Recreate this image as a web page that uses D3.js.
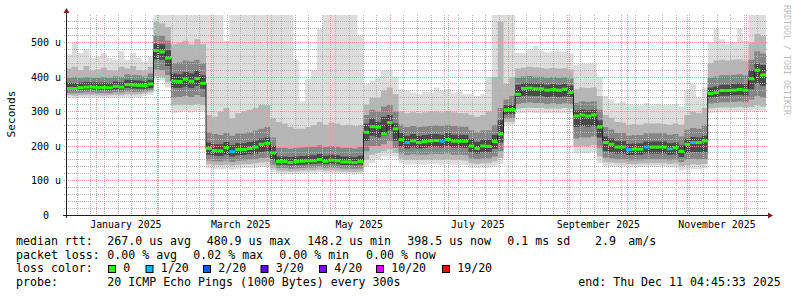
<!DOCTYPE html>
<html>
<head>
<meta charset="utf-8">
<script src="https://d3js.org/d3.v7.min.js"></script>
<style>
  body { margin: 0; background: #ffffff; }
  svg { display: block; }
  text { font-family: "DejaVu Sans Mono", monospace; fill: #000000; }
</style>
</head>
<body>
<div id="graph"></div>
<script>

// one sample every 3 days, the graph covers the 360 days before END_TIME
const END_TIME = new Date(Date.UTC(2025, 11, 11, 4, 45, 33));
const SPAN_DAYS = 360;
const STEP_DAYS = 3;
const Y_MAX = 580;   // micro seconds, top of the canvas

// median rtt per sample (us)
const median_us = [
  367,367,369,371,371,370,370,369,373,371,
  378,377,376,375,380,477,473,455,388,387,
  394,388,396,382,193,187,186,195,184,190,
  190,193,197,205,208,180,155,155,152,155,
  156,157,157,161,156,159,157,154,154,152,
  155,240,256,255,235,268,250,218,210,215,
  210,213,215,216,214,219,214,214,214,200,
  193,200,199,213,235,305,306,350,367,368,
  366,366,362,364,362,365,355,287,290,287,
  290,255,210,205,197,197,190,191,191,197,
  197,197,197,192,195,185,205,210,210,215,
  352,355,361,361,362,364,362,395,420,406
];

// sorted pings (rank out of 20), us; 600 = above the graph top
const ping01 = [
  340,338,340,339,341,340,339,340,341,340,
  342,341,342,345,348,392,390,370,296,298,
  300,297,300,298,135,133,132,134,131,134,
  136,136,137,140,140,125,120,119,118,119,
  120,120,121,123,120,121,120,118,118,117,
  118,140,150,160,170,170,170,150,146,147,
  146,146,147,147,146,148,146,146,145,137,
  136,137,137,140,148,262,262,294,296,297,
  296,296,295,296,295,296,294,178,180,180,
  183,150,142,141,140,140,138,138,139,140,
  140,140,140,138,138,130,132,133,132,135,
  296,297,298,298,298,299,298,300,302,300
];
const ping03 = [
  347,346,347,347,348,347,346,347,348,347,
  350,349,350,352,356,402,400,385,318,318,
  320,318,322,318,147,145,144,146,143,146,
  147,148,150,152,153,135,128,127,126,127,
  128,129,129,131,128,129,128,126,126,125,
  126,160,175,180,185,190,180,163,160,161,
  160,160,161,161,160,162,160,160,158,150,
  148,150,150,155,165,270,270,308,310,311,
  310,310,308,309,308,310,308,198,200,200,
  203,170,153,152,150,150,148,148,149,150,
  150,150,150,148,149,142,145,147,146,148,
  309,310,312,312,312,313,312,313,318,315
];
const ping05 = [
  353,353,354,355,355,354,354,353,356,355,
  358,357,357,358,362,422,420,405,340,342,
  345,342,348,342,158,156,155,158,154,157,
  158,160,162,165,166,146,136,136,134,135,
  136,137,138,140,137,138,137,135,135,134,
  135,185,200,200,205,215,195,178,174,176,
  175,175,176,177,176,178,175,175,174,164,
  162,164,164,170,185,280,281,322,325,326,
  325,325,322,324,322,324,322,222,225,225,
  228,195,166,164,162,162,158,159,159,162,
  162,162,162,159,160,154,160,163,162,162,
  323,325,327,327,328,329,327,335,345,340
];
const ping08 = [
  362,362,363,364,364,363,363,362,365,364,
  368,367,366,366,368,452,450,432,368,368,
  372,368,375,366,175,172,171,175,170,173,
  174,176,178,183,185,160,146,146,144,145,
  146,147,148,150,147,149,147,145,145,144,
  146,215,230,225,230,245,215,198,193,196,
  193,195,197,198,196,200,196,196,195,182,
  178,182,182,192,210,292,293,342,345,346,
  345,345,342,344,342,344,342,255,258,256,
  258,225,185,182,178,178,174,175,175,178,
  178,178,178,175,176,168,180,183,182,182,
  340,343,346,346,347,348,346,365,380,375
];
const ping13 = [
  383,383,384,386,385,384,384,383,387,385,
  392,391,390,388,392,497,495,478,410,408,
  415,410,418,405,210,205,205,212,203,208,
  208,212,215,222,225,200,170,170,168,170,
  171,172,173,177,172,175,173,170,170,168,
  172,265,280,270,285,290,265,238,230,235,
  230,232,234,235,233,238,233,233,232,220,
  212,218,218,233,275,318,320,378,382,383,
  381,381,378,380,378,380,376,303,306,304,
  305,275,228,222,214,214,206,207,207,213,
  213,213,213,208,210,202,222,226,225,230,
  370,373,378,378,380,382,379,420,440,435
];
const ping16 = [
  398,400,398,400,398,398,400,398,402,400,
  408,406,405,402,410,522,520,505,440,442,
  448,445,450,440,240,235,232,238,230,236,
  236,240,245,250,255,225,195,195,192,195,
  196,198,198,202,197,200,198,195,195,193,
  197,290,305,300,315,320,300,262,255,258,
  255,257,258,260,258,262,258,257,256,246,
  240,245,246,262,310,335,345,398,402,403,
  401,401,398,400,398,400,396,325,330,328,
  330,305,255,248,238,238,230,232,232,237,
  237,237,237,233,235,228,248,252,250,262,
  398,402,405,405,406,408,405,450,475,468
];
const ping18 = [
  425,430,420,432,418,422,428,420,418,430,
  425,432,420,418,430,560,555,545,495,500,
  505,495,510,495,290,285,300,310,280,295,
  300,305,310,320,318,280,270,265,255,250,
  250,255,260,270,262,268,265,260,262,258,
  260,320,340,340,360,370,350,300,295,298,
  295,298,300,300,298,302,298,296,295,290,
  285,290,300,400,560,380,400,425,428,430,
  428,426,424,426,425,426,422,365,370,368,
  370,345,290,282,270,268,262,264,262,266,
  265,266,264,262,265,262,290,300,295,310,
  440,448,450,448,450,452,448,500,525,520
];
const ping20 = [
  465,500,470,480,455,460,470,455,450,475,
  450,470,455,445,460,600,600,600,600,600,
  600,600,600,600,600,600,600,505,600,600,
  600,600,600,600,600,600,600,600,600,450,
  330,394,420,540,600,600,600,600,600,600,
  520,380,390,400,420,420,400,365,360,355,
  350,358,355,370,360,365,355,358,350,350,
  345,350,400,600,600,600,600,470,470,480,
  490,478,472,474,476,475,468,435,440,438,
  440,400,345,335,325,330,322,320,318,325,
  318,322,318,320,322,315,360,380,340,370,
  500,540,510,495,500,540,505,600,600,600
];

// lost pings out of 20 per sample
const loss_count = [
  0,0,0,0,0,0,0,0,0,0,
  0,0,0,0,0,0,0,0,0,0,
  0,0,0,0,0,0,0,0,1,0,
  0,0,0,0,0,0,0,0,0,0,
  0,0,0,0,0,0,0,0,0,0,
  0,0,0,0,0,0,0,0,1,0,
  0,0,0,0,1,0,0,0,0,0,
  0,0,0,0,0,0,0,0,0,0,
  0,0,0,0,0,0,0,0,0,0,
  0,0,0,0,0,0,1,0,0,1,
  0,0,0,1,0,0,0,1,0,0,
  0,0,0,0,0,0,0,0,0,0
];

const y_tick_values = [0, 100, 200, 300, 400, 500];
const y_tick_labels = ["0  ", "100 u", "200 u", "300 u", "400 u", "500 u"];
const x_tick_labels = ["January 2025", "March 2025", "May 2025", "July 2025", "September 2025", "November 2025"];

const loss_levels = [0, 1, 2, 3, 4, 10, 19];
const loss_names = ["0", "1/20", "2/20", "3/20", "4/20", "10/20", "19/20"];
const loss_colors = ["#26ff00", "#00b8ff", "#0059ff", "#5e00ff", "#7e00ff", "#dd00ff", "#ff0000"];

const rtt_stats = ["267.0 us avg", "480.9 us max", "148.2 us min", "398.5 us now", "0.1 ms sd", "2.9", "am/s"];
const loss_stats = ["0.00 % avg", "0.02 % max", "0.00 % min", "0.00 % now"];
const probe_text = "20 ICMP Echo Pings (1000 Bytes) every 300s";

// ---------------------------------------------------------------------------

let X0 = 66, X1 = 766;
let Y0 = 215, Y1 = 15;

let start_time = new Date(END_TIME.getTime() - SPAN_DAYS * 864e5);
let sample_times = median_us.map(function(d, i) {
  return new Date(start_time.getTime() + i * STEP_DAYS * 864e5);
});

let x = d3.scaleUtc().domain([start_time, END_TIME]).range([X0, X1]);
let y = d3.scaleLinear().domain([0, Y_MAX]).range([Y0, Y1]).clamp(true);

// crisp 1px line position
function px(v) { return Math.floor(v) + 0.5; }

let chart = d3.select("#graph")
              .append("svg")
               .attr("width", 797)
               .attr("height", 297);

chart.append("rect")
     .attr("width", 797).attr("height", 297)
     .attr("fill", "#ffffff");

// Build step rows (last row repeated at end time to close the final step)
function step_rows(series_a, series_b) {
  let rows = sample_times.map(function(t, i) {
    return {t: t, a: series_a[i], b: series_b ? series_b[i] : null};
  });
  let n = sample_times.length - 1;
  rows.push({t: END_TIME, a: series_a[n], b: series_b ? series_b[n] : null});
  return rows;
}

// Smoke: outermost pair first, darker inner pairs on top
let bands = [
  {lo: ping01, hi: ping20, fill: "#dddddd"},
  {lo: ping03, hi: ping18, fill: "#b6b6b6"},
  {lo: ping05, hi: ping16, fill: "#868686"},
  {lo: ping08, hi: ping13, fill: "#4a4a4a"}
];

let smoke_area = d3.area()
                   .curve(d3.curveStepAfter)
                   .x(function(d) { return x(d.t); })
                   .y0(function(d) { return y(d.a); })
                   .y1(function(d) { return y(d.b); });

chart.append("g")
     .selectAll("path")
     .data(bands)
     .enter().append("path")
      .attr("fill", function(d) { return d.fill; })
      .attr("d", function(d) { return smoke_area(step_rows(d.lo, d.hi)); });

// Grid: minor (grey) and major (red) dotted lines
let grid = chart.append("g")
                .attr("shape-rendering", "crispEdges")
                .attr("stroke-width", 1)
                .attr("stroke-dasharray", "1,1");

let minor_y = d3.range(20, Y_MAX, 20);
grid.selectAll("line.hminor")
    .data(minor_y)
    .enter().append("line")
     .attr("class", "hminor")
     .attr("x1", X0 - 2).attr("x2", X1 + 2)
     .attr("y1", function(d) { return px(y(d)); })
     .attr("y2", function(d) { return px(y(d)); })
     .attr("stroke", "#b2b2b2");

let weeks = d3.utcSunday.range(start_time, END_TIME);
grid.selectAll("line.vminor")
    .data(weeks)
    .enter().append("line")
     .attr("class", "vminor")
     .attr("x1", function(d) { return px(x(d)); })
     .attr("x2", function(d) { return px(x(d)); })
     .attr("y1", Y1).attr("y2", Y0 + 2)
     .attr("stroke", "#b2b2b2");

grid.selectAll("line.hmajor")
    .data(y_tick_values.slice(1))
    .enter().append("line")
     .attr("class", "hmajor")
     .attr("x1", X0 - 2).attr("x2", X1 + 2)
     .attr("y1", function(d) { return px(y(d)); })
     .attr("y2", function(d) { return px(y(d)); })
     .attr("stroke", "#e99696");

let months = d3.utcMonth.range(start_time, END_TIME);
grid.selectAll("line.vmajor")
    .data(months)
    .enter().append("line")
     .attr("class", "vmajor")
     .attr("x1", function(d) { return px(x(d)); })
     .attr("x2", function(d) { return px(x(d)); })
     .attr("y1", Y1).attr("y2", Y0 + 2)
     .attr("stroke", "#e99696");

// Median: thin dark step line, then a coloured mark per sample (colour = loss)
let median_line = d3.line()
                    .curve(d3.curveStepAfter)
                    .x(function(d) { return x(d.t); })
                    .y(function(d) { return y(d.a); });

chart.append("path")
     .attr("fill", "none")
     .attr("stroke", "#202020")
     .attr("stroke-width", 1)
     .attr("d", median_line(step_rows(median_us)));

function loss_color(n) {
  let idx = 0;
  loss_levels.forEach(function(l, i) { if (n >= l) idx = i; });
  return loss_colors[idx];
}

chart.append("g")
     .selectAll("rect")
     .data(median_us)
     .enter().append("rect")
      .attr("x", function(d, i) { return x(sample_times[i]); })
      .attr("width", function(d, i) {
        let t1 = i + 1 < sample_times.length ? sample_times[i + 1] : END_TIME;
        return x(t1) - x(sample_times[i]);
      })
      .attr("y", function(d) { return y(d) - 1.5; })
      .attr("height", 3)
      .attr("fill", function(d, i) { return loss_color(loss_count[i]); });

// Axes with arrows
let axis = chart.append("g").attr("shape-rendering", "crispEdges");
axis.append("line")
    .attr("x1", X0 - 3).attr("x2", X1 + 3)
    .attr("y1", Y0 + 0.5).attr("y2", Y0 + 0.5)
    .attr("stroke", "#1f1f1f");
axis.append("line")
    .attr("x1", X0 + 0.5).attr("x2", X0 + 0.5)
    .attr("y1", Y0 + 3).attr("y2", Y1 - 3)
    .attr("stroke", "#1f1f1f");

chart.append("polygon")
     .attr("points", [[X1 + 2, Y0 - 2.5], [X1 + 7, Y0 + 0.5], [X1 + 2, Y0 + 3.5]].join(" "))
     .attr("fill", "#801f1f");
chart.append("polygon")
     .attr("points", [[X0 - 2.5, Y1 - 2], [X0 + 0.5, Y1 - 7], [X0 + 3.5, Y1 - 2]].join(" "))
     .attr("fill", "#801f1f");

// Tick labels
chart.append("g")
     .selectAll("text")
     .data(y_tick_values)
     .enter().append("text")
      .attr("x", 61)
      .attr("y", function(d) { return px(y(d)) + 3.5; })
      .attr("text-anchor", "end")
      .style("white-space", "pre")
      .style("font-size", "10px")
      .text(function(d, i) { return y_tick_labels[i]; });

let label_months = d3.utcMonth.every(2).range(new Date(Date.UTC(2025, 0, 1)), END_TIME);
chart.append("g")
     .selectAll("text")
     .data(x_tick_labels)
     .enter().append("text")
      .attr("x", function(d, i) { return x(d3.utcDay.offset(label_months[i], 15)); })
      .attr("y", 228.3)
      .attr("text-anchor", "middle")
      .style("font-size", "9.9px")
      .text(function(d) { return d; });

chart.append("text")
     .attr("transform", "translate(15,114) rotate(-90)")
     .attr("text-anchor", "middle")
     .style("font-size", "11.1px")
     .text("Seconds");

chart.append("text")
     .attr("transform", "translate(783.5,5) rotate(90)")
     .style("font-size", "8.3px")
     .style("fill", "#bdbdbd")
     .text("RRDTOOL / TOBI OETIKER");

// Legend
let legend = chart.append("g").style("font-size", "11.6px");
let row_y = [245, 258.7, 272.4, 286];

legend.append("text").attr("x", 16).attr("y", row_y[0]).text("median rtt:");
let rtt_x = [107.3, 206.7, 307.3, 407.3, 507.3, 595, 628.3];
rtt_stats.forEach(function(s, i) {
  legend.append("text").attr("x", rtt_x[i]).attr("y", row_y[0]).text(s);
});

legend.append("text").attr("x", 16).attr("y", row_y[1]).text("packet loss:");
let loss_x = [107.3, 193.3, 279.3, 366];
loss_stats.forEach(function(s, i) {
  legend.append("text").attr("x", loss_x[i]).attr("y", row_y[1]).text(s);
});

legend.append("text").attr("x", 16).attr("y", row_y[2]).text("loss color:");
let box_x = [108.5, 146, 203.5, 261, 319.5, 376.5, 442.5];
loss_names.forEach(function(s, i) {
  legend.append("rect")
        .attr("x", box_x[i]).attr("y", 265.5)
        .attr("width", 7).attr("height", 7)
        .attr("fill", loss_colors[i])
        .attr("stroke", "#000000");
  legend.append("text").attr("x", box_x[i] + 14.7).attr("y", row_y[2]).text(s);
});

legend.append("text").attr("x", 16).attr("y", row_y[3]).text("probe:");
legend.append("text").attr("x", 107.3).attr("y", row_y[3]).text(probe_text);
legend.append("text")
      .attr("x", 578.3).attr("y", row_y[3])
      .text(d3.utcFormat("end: %a %b %d %H:%M:%S %Y")(END_TIME));

</script>
</body>
</html>
